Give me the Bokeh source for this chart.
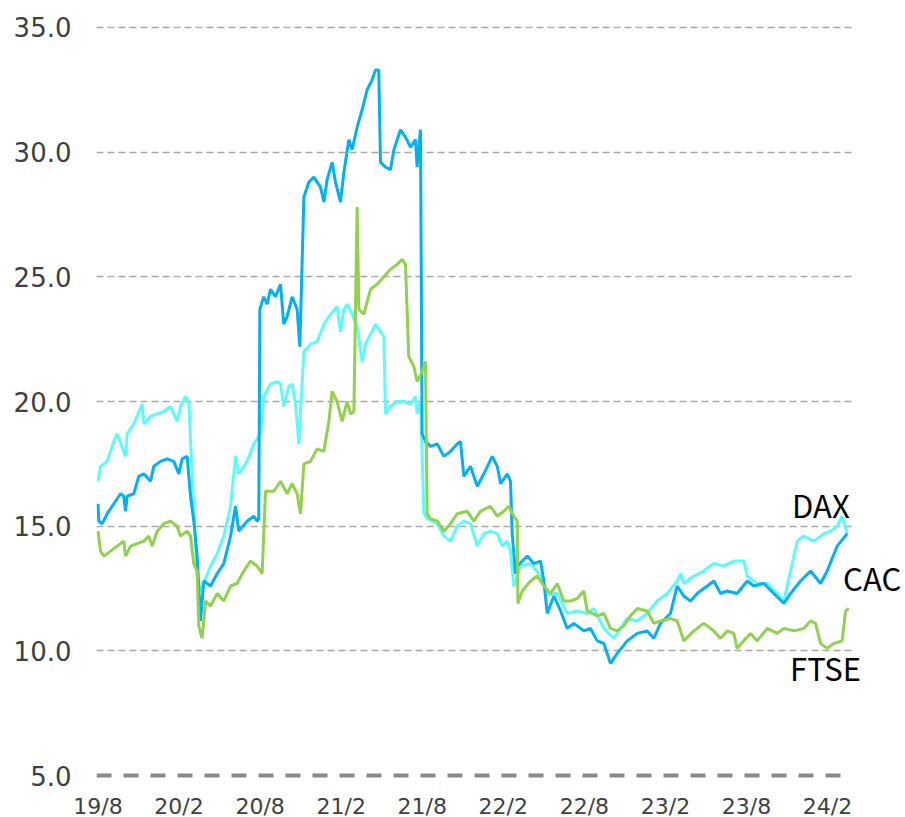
from bokeh.plotting import figure
from bokeh.models import Range1d, FixedTicker, Label, ColumnDataSource, Grid
from bokeh.embed import file_html
from bokeh.resources import INLINE

# x = months since Aug 2019
tick_months = [0, 6, 12, 18, 24, 30, 36, 42, 48, 54]
tick_labels = ["19/8", "20/2", "20/8", "21/2", "21/8", "22/2", "22/8", "23/2", "23/8", "24/2"]
y_ticks = [5, 10, 15, 20, 25, 30, 35]
y_tick_labels = ["5.0", "10.0", "15.0", "20.0", "25.0", "30.0", "35.0"]

dax_m = [0.0, 0.19, 0.68, 1.17, 1.42, 2.04, 2.16, 2.65, 3.27, 3.39,
         3.89, 4.38, 4.87, 5.37, 5.86, 6.11, 6.48, 6.72, 6.97, 7.34,
         7.59, 8.33, 8.82, 9.31, 9.81, 10.18, 10.42, 11.04, 11.53, 12.03,
         12.27, 12.77, 13.26, 13.51, 13.75, 14.12, 14.37, 14.62, 14.87, 14.99,
         15.24, 15.73, 16.22, 16.72, 17.21, 17.70, 17.95, 18.20, 18.44, 18.81,
         19.18, 19.55, 19.80, 20.17, 20.54, 20.91, 21.16, 21.28, 21.65, 22.14,
         22.64, 23.13, 23.50, 23.62, 23.87, 24.12, 24.37, 25.11, 25.60, 26.09,
         26.59, 27.08, 27.57, 28.07, 28.56, 29.05, 29.55, 29.92, 30.29, 30.53,
         30.78, 31.27, 32.01, 32.75, 33.25, 33.99, 34.73, 35.47, 36.21, 36.70,
         37.44, 38.18, 38.67, 39.17, 39.91, 40.65, 41.39, 42.13, 42.87, 43.12,
         43.36, 44.10, 44.84, 45.58, 46.32, 47.06, 47.80, 48.05, 48.79, 49.53,
         50.27, 50.77, 51.26, 51.75, 52.24, 52.98, 53.72, 54.22, 54.71, 55.08,
         55.45]
dax_v = [16.8, 17.4, 17.6, 18.4, 18.7, 17.8, 18.7, 19.1, 19.9, 19.1,
         19.4, 19.5, 19.6, 19.8, 19.2, 19.8, 20.2, 20.0, 17.0, 13.0,
         12.4, 13.4, 13.9, 14.6, 15.8, 17.8, 17.1, 17.6, 18.3, 18.7,
         20.2, 20.7, 20.8, 20.7, 19.8, 20.6, 20.7, 19.9, 18.3, 19.6,
         22.0, 22.3, 22.4, 23.1, 23.5, 23.8, 22.8, 23.7, 23.9, 23.5,
         23.0, 21.6, 22.3, 22.7, 23.1, 22.8, 22.6, 19.5, 19.8, 20.0,
         20.0, 19.9, 20.2, 19.5, 20.0, 15.5, 15.3, 15.1, 14.6, 14.4,
         15.0, 15.2, 15.1, 14.2, 14.7, 14.8, 14.7, 14.2, 14.4, 14.0,
         12.6, 13.4, 13.5, 13.0, 12.3, 12.3, 11.5, 11.6, 11.5, 11.7,
         10.9, 10.5, 10.9, 11.3, 11.2, 11.5, 12.0, 12.3, 12.8, 13.1,
         12.7, 13.0, 13.2, 13.5, 13.4, 13.6, 13.6, 13.0, 12.7, 12.7,
         12.3, 12.0, 13.2, 14.4, 14.6, 14.4, 14.7, 14.8, 15.0, 15.4,
         14.7]

cac_pts = [(0.0, 15.9), (0.06, 15.2), (0.31, 15.1), (0.68, 15.5), (1.17, 15.9), (1.67, 16.3),
           (1.91, 16.2), (2.04, 15.6), (2.16, 16.2), (2.65, 16.3), (3.02, 17.0), (3.39, 17.1),
           (3.89, 16.8), (4.13, 17.4), (4.63, 17.6), (5.12, 17.7), (5.61, 17.6), (5.98, 17.1),
           (6.23, 17.7), (6.60, 17.8), (6.85, 16.2), (7.09, 15.2), (7.34, 13.8), (7.59, 11.2),
           (7.83, 12.8), (8.33, 12.6), (8.82, 13.1), (9.31, 13.5), (9.81, 14.6), (10.18, 15.8),
           (10.42, 14.8), (11.04, 15.2), (11.53, 15.4), (11.78, 15.2), (11.90, 15.3), (11.98, 23.7),
           (12.27, 24.2), (12.52, 23.9), (12.77, 24.5), (13.14, 24.2), (13.51, 24.7), (13.75, 23.1),
           (14.0, 23.4), (14.37, 24.2), (14.74, 23.7), (14.94, 22.2), (15.12, 25.8), (15.24, 28.2),
           (15.61, 28.8), (15.98, 29.0), (16.47, 28.6), (16.72, 28.0), (16.96, 28.9), (17.33, 29.6),
           (17.58, 28.8), (17.95, 28.0), (18.20, 29.2), (18.57, 30.5), (18.81, 30.1), (19.18, 31.0),
           (19.55, 31.7), (19.92, 32.5), (20.29, 32.9), (20.54, 33.3), (20.78, 33.3), (20.91, 29.6),
           (21.28, 29.4), (21.65, 29.3), (21.90, 30.1), (22.39, 30.9), (22.76, 30.6), (23.13, 30.2),
           (23.50, 30.5), (23.62, 29.4), (23.87, 30.9), (23.99, 18.7), (24.24, 18.4), (24.61, 18.2),
           (25.11, 18.3), (25.60, 17.8), (26.09, 18.0), (26.59, 18.3), (26.83, 18.4), (27.08, 17.0),
           (27.57, 17.4), (28.07, 16.6), (28.56, 17.1), (29.18, 17.8), (29.55, 17.4), (29.80, 16.7),
           (30.29, 17.1), (30.53, 16.8), (30.66, 14.7), (30.90, 13.1), (31.03, 13.4), (31.77, 13.8),
           (32.26, 13.5), (32.75, 13.6), (33.0, 12.8), (33.25, 11.5), (33.74, 12.2), (34.24, 11.6),
           (34.73, 10.9), (35.22, 11.1), (35.96, 10.8), (36.45, 10.9), (36.95, 10.4), (37.44, 10.3),
           (37.93, 9.5), (38.43, 9.9), (39.17, 10.4), (39.91, 10.7), (40.65, 10.8), (41.14, 10.5),
           (41.63, 11.1), (42.37, 11.5), (42.87, 12.6), (43.36, 12.2), (43.85, 12.0), (44.35, 12.3),
           (45.09, 12.6), (45.58, 12.8), (46.08, 12.3), (46.57, 12.4), (47.31, 12.3), (48.05, 12.8),
           (48.54, 12.6), (49.28, 12.7), (50.02, 12.3), (50.77, 11.9), (51.26, 12.3), (52.0, 12.8),
           (52.74, 13.2), (53.48, 12.7), (53.97, 13.2), (54.71, 14.2), (55.45, 14.7)]
cac_m = [a for a, b in cac_pts]
cac_v = [b for a, b in cac_pts]

ftse_pts = [(0.0, 14.8), (0.19, 14.0), (0.43, 13.8), (0.93, 14.0), (1.42, 14.2), (1.91, 14.4),
            (2.04, 13.8), (2.41, 14.2), (2.90, 14.3), (3.39, 14.4), (3.76, 14.6), (4.01, 14.2),
            (4.38, 14.8), (4.87, 15.1), (5.37, 15.2), (5.86, 15.0), (6.11, 14.6), (6.60, 14.8),
            (6.85, 14.6), (7.09, 13.5), (7.34, 13.2), (7.46, 11.0), (7.71, 10.5), (7.96, 12.0),
            (8.33, 11.8), (8.82, 12.3), (9.31, 12.0), (9.81, 12.6), (10.30, 12.7), (10.79, 13.2),
            (11.28, 13.6), (11.78, 13.4), (12.15, 13.1), (12.40, 16.4), (12.52, 16.4), (13.02, 16.4),
            (13.51, 16.8), (14.0, 16.3), (14.37, 16.7), (14.74, 16.3), (14.99, 15.5), (15.24, 17.5),
            (15.73, 17.6), (16.22, 18.1), (16.72, 18.0), (17.09, 19.2), (17.33, 20.4), (17.70, 20.0),
            (18.07, 19.2), (18.44, 20.0), (18.69, 19.5), (18.94, 19.6), (19.06, 23.7), (19.18, 27.8),
            (19.31, 23.7), (19.68, 23.5), (20.17, 24.5), (20.66, 24.7), (21.16, 25.0), (21.65, 25.3),
            (22.14, 25.5), (22.51, 25.7), (22.76, 25.5), (23.0, 21.8), (23.38, 21.4), (23.62, 20.8),
            (23.99, 21.2), (24.24, 21.6), (24.36, 15.5), (24.61, 15.3), (25.11, 15.2), (25.60, 14.8),
            (26.09, 15.1), (26.59, 15.5), (27.33, 15.6), (27.82, 15.2), (28.32, 15.6), (29.05, 15.8),
            (29.55, 15.4), (30.04, 15.6), (30.41, 15.8), (30.66, 15.5), (31.03, 15.2), (31.08, 11.9),
            (31.40, 12.4), (32.01, 12.8), (32.51, 13.0), (33.0, 12.6), (33.49, 12.3), (33.99, 12.7),
            (34.48, 12.0), (34.97, 12.0), (35.47, 12.1), (35.96, 12.4), (36.21, 11.6), (36.95, 11.4),
            (37.44, 11.5), (37.93, 10.9), (38.43, 10.8), (38.92, 11.0), (39.41, 11.4), (39.91, 11.7),
            (40.65, 11.6), (41.14, 11.1), (41.63, 11.2), (42.37, 11.3), (42.87, 11.2), (43.36, 10.4),
            (44.10, 10.8), (44.84, 11.1), (45.58, 10.8), (46.08, 10.5), (46.57, 10.8), (47.06, 10.7),
            (47.31, 10.1), (47.80, 10.4), (48.29, 10.7), (48.79, 10.4), (49.53, 10.9), (50.27, 10.7),
            (50.77, 10.9), (51.51, 10.8), (52.24, 10.9), (52.74, 11.2), (53.11, 11.1), (53.48, 10.3),
            (53.97, 10.1), (54.47, 10.3), (55.08, 10.4), (55.33, 11.6), (55.57, 11.7)]
ftse_m = [a for a, b in ftse_pts]
ftse_v = [b for a, b in ftse_pts]

series = [
    ("DAX", dax_m, dax_v, "#5EFBFB"),
    ("CAC", cac_m, cac_v, "#00B0F0"),
    ("FTSE", ftse_m, ftse_v, "#92D050"),
]

X0, XGRID_END, X1 = -0.11, 55.75, 59.62

p = figure(frame_width=807, frame_height=758,
           x_range=Range1d(X0, X1), y_range=Range1d(4.8, 35.2),
           output_backend="svg", toolbar_location=None,
           min_border_left=96, min_border_right=0, min_border_top=22, min_border_bottom=0)
p.outline_line_color = None
p.background_fill_color = "white"
p.border_fill_color = "white"

p.xgrid.visible = False
p.ygrid.visible = False

grid = Grid(dimension=1, ticker=FixedTicker(ticks=y_ticks[1:]), cross_bounds=(X0, XGRID_END),
            grid_line_dash="7 4", grid_line_color="#a8a8a8", grid_line_width=1.5)
p.add_layout(grid, "center")
base = Grid(dimension=1, ticker=FixedTicker(ticks=y_ticks[:1]), cross_bounds=(X0, XGRID_END),
            grid_line_dash="15 12", grid_line_color="#8a8a8a", grid_line_width=4)
p.add_layout(base, "center")

ya = p.yaxis[0]
ya.ticker = FixedTicker(ticks=y_ticks)
ya.major_label_overrides = {t: s for t, s in zip(y_ticks, y_tick_labels)}
ya.axis_line_color = None
ya.major_tick_line_color = None
ya.minor_tick_line_color = None
ya.major_label_standoff = 19
ya.major_label_text_font = "DejaVu Sans"
ya.major_label_text_font_size = "26px"
ya.major_label_text_color = "#404040"

xa = p.xaxis[0]
xa.ticker = FixedTicker(ticks=tick_months)
xa.major_label_overrides = {t: s for t, s in zip(tick_months, tick_labels)}
xa.axis_line_color = None
xa.major_tick_line_color = None
xa.minor_tick_line_color = None
xa.major_label_standoff = 7
xa.major_label_text_font = "DejaVu Sans"
xa.major_label_text_font_size = "22px"
xa.major_label_text_color = "#404040"

for name, m, v, col in series:
    src = ColumnDataSource(data=dict(x=m, y=v))
    p.line("x", "y", source=src, line_color=col, line_width=3)

label_pos = {"DAX": (53.5, 15.85), "CAC": (57.3, 12.95), "FTSE": (53.85, 9.35)}
for name, m, v, col in series:
    lx, ly = label_pos[name]
    p.add_layout(Label(x=lx, y=ly, text=name, text_align="center", text_baseline="middle",
                       text_font="Noto Sans CJK JP", text_font_size="31px",
                       text_color="black"))

open("out.html", "w").write(file_html(p, INLINE))
